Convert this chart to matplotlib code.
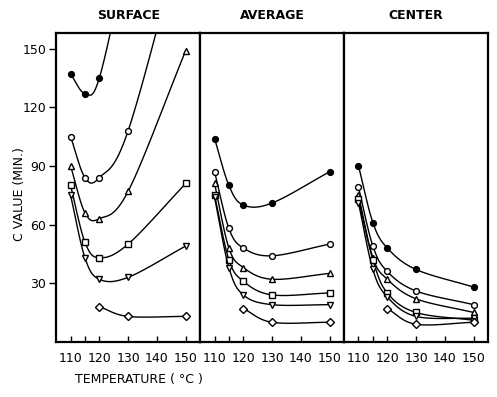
import matplotlib
matplotlib.use("Agg")
import matplotlib.pyplot as plt
import numpy as np

# temperatures (deg C)
temps = [110, 115, 120, 130, 150]
temps_d = [120, 130, 150]

# C values (min)
# surface: two top curves leave the frame, last value is an off-scale estimate
surf_circle_f = [137, 127, 135, 200]
surf_circle_f_t = [110, 115, 120, 130]
surf_circle_o = [105, 84, 84, 108, 215]
surf_tri = [90, 66, 63, 77, 149]
surf_sq = [80, 51, 43, 50, 81]
surf_itri = [75, 43, 32, 33, 49]
surf_dia = [18, 13, 13]

avg_circle_f = [104, 80, 70, 71, 87]
avg_circle_o = [87, 58, 48, 44, 50]
avg_tri = [81, 48, 38, 32, 35]
avg_sq = [75, 42, 31, 24, 25]
avg_itri = [74, 38, 24, 19, 19]
avg_dia = [17, 10, 10]

cen_circle_f = [90, 61, 48, 37, 28]
cen_circle_o = [79, 49, 36, 26, 19]
cen_tri = [75, 43, 32, 22, 15]
cen_sq = [73, 42, 25, 15, 11]
cen_itri = [71, 37, 23, 13, 12]
cen_dia = [17, 9, 10]

titles = ["SURFACE", "AVERAGE", "CENTER"]
y_ticks = [30, 60, 90, 120, 150]


def smooth(x, y, n=30):
    # catmull-rom curve through the points, only for drawing
    p = np.column_stack([x, y]).astype(float)
    p = np.vstack([2 * p[0] - p[1], p, 2 * p[-1] - p[-2]])
    xs, ys = [], []
    t = np.linspace(0, 1, n)
    for i in range(1, len(p) - 2):
        p0, p1, p2, p3 = p[i - 1], p[i], p[i + 1], p[i + 2]
        c = 0.5 * (2 * p1[:, None] + (-p0 + p2)[:, None] * t
                   + (2 * p0 - 5 * p1 + 4 * p2 - p3)[:, None] * t ** 2
                   + (-p0 + 3 * p1 - 3 * p2 + p3)[:, None] * t ** 3)
        xs.extend(c[0])
        ys.extend(c[1])
    return xs, ys


def draw(ax, x, y, marker, filled=False, ms=4.2):
    sx, sy = smooth(x, y)
    ax.plot(sx, sy, color="black", lw=1.0)
    ax.plot(x, y, linestyle="none", marker=marker, ms=ms, mew=1.0,
            mec="black", mfc="black" if filled else "white")


fig, axes = plt.subplots(1, 3, figsize=(4.97, 3.97), dpi=100, sharey=True)
fig.subplots_adjust(left=0.113, right=0.982, bottom=0.139, top=0.917, wspace=0)

panels = [
    [(surf_circle_f_t, surf_circle_f, "o", True), (temps, surf_circle_o, "o", False),
     (temps, surf_tri, "^", False), (temps, surf_sq, "s", False),
     (temps, surf_itri, "v", False), (temps_d, surf_dia, "D", False)],
    [(temps, avg_circle_f, "o", True), (temps, avg_circle_o, "o", False),
     (temps, avg_tri, "^", False), (temps, avg_sq, "s", False),
     (temps, avg_itri, "v", False), (temps_d, avg_dia, "D", False)],
    [(temps, cen_circle_f, "o", True), (temps, cen_circle_o, "o", False),
     (temps, cen_tri, "^", False), (temps, cen_sq, "s", False),
     (temps, cen_itri, "v", False), (temps_d, cen_dia, "D", False)],
]

for ax, title, series in zip(axes, titles, panels):
    for x, y, m, f in series:
        draw(ax, x, y, m, f, ms=3.6 if m == "D" else 4.2)
    ax.set_xlim(105, 155)
    ax.set_ylim(0, 158)
    ax.set_xticks([110, 115, 120, 130, 140, 150])
    ax.set_xticklabels(["110", "", "120", "130", "140", "150"])
    ax.tick_params(axis="x", direction="in", length=4, width=1, labelsize=9, pad=7)
    ax.set_title(title, fontsize=9, fontweight="bold", pad=10)
    for s in ax.spines.values():
        s.set_linewidth(1.6)

axes[0].set_yticks(y_ticks)
axes[0].tick_params(axis="y", direction="out", length=5, width=1, labelsize=9, pad=2)
for ax in axes[1:]:
    ax.tick_params(axis="y", left=False)

fig.text(0.04, 0.51, "C VALUE (MIN.)", fontsize=9, rotation=90, ha="center", va="center")
fig.text(0.28, 0.035, "TEMPERATURE ( °C )", fontsize=9, ha="center")

fig.savefig("out.png", dpi=100)
